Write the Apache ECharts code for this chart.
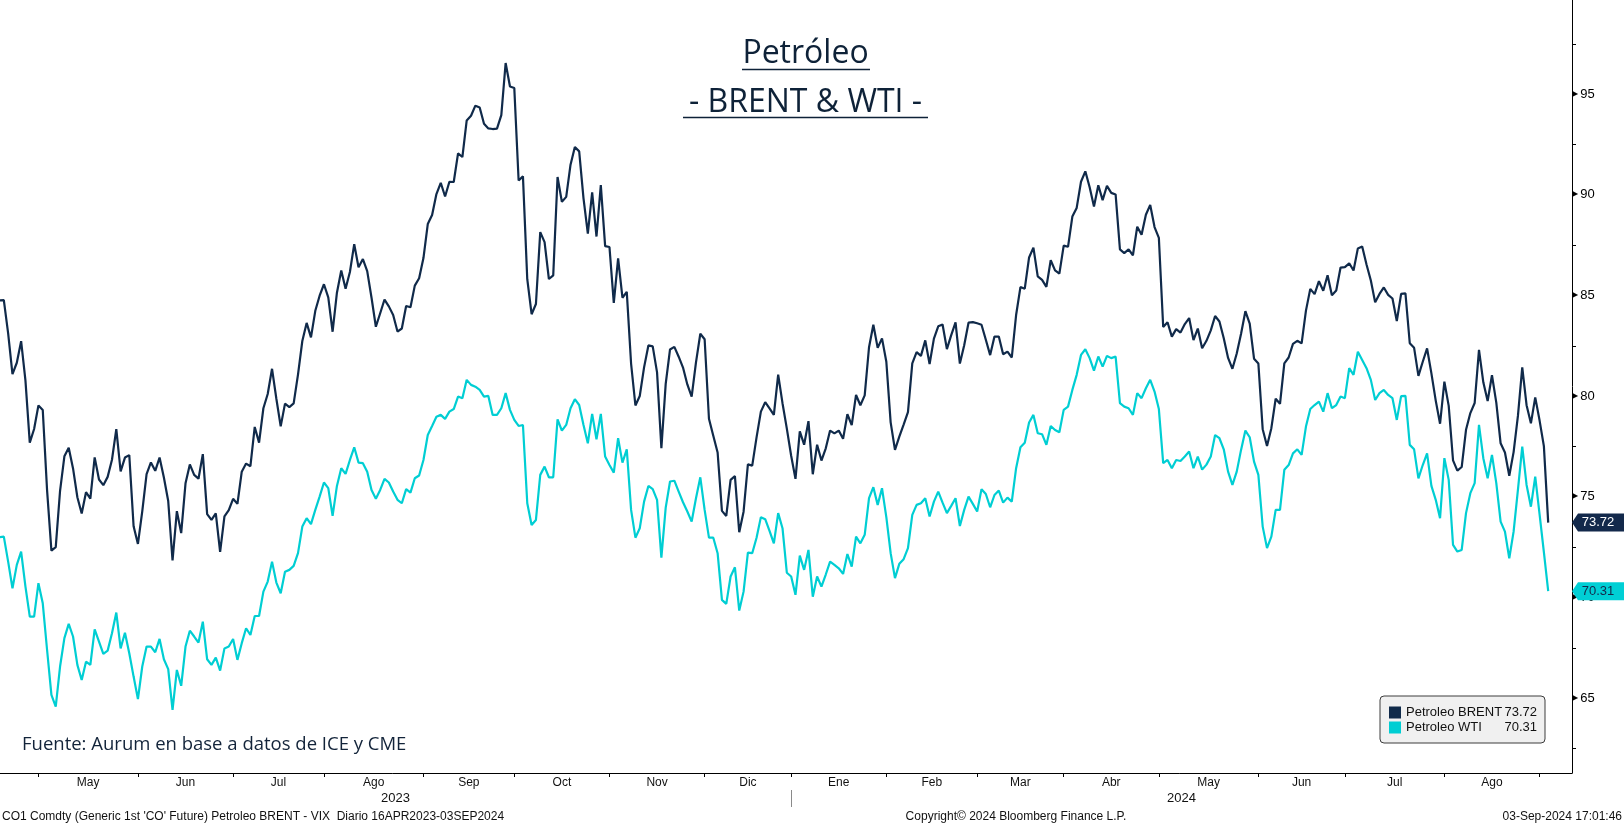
<!DOCTYPE html>
<html>
<head>
<meta charset="utf-8">
<script src="https://cdn.jsdelivr.net/npm/echarts@6/dist/echarts.min.js"></script>
<style>
html,body{margin:0;padding:0;background:#ffffff;}
#c{width:1624px;height:825px;}
</style>
</head>
<body>
<div id="c"></div>
<script>
// ---------------- DATA ----------------
// Trading calendar (weekdays, minus market holidays)
const firstDay = '2023-04-17';
const lastDay = '2024-09-03';
const holidays = ['2023-12-25', '2024-01-01', '2024-03-29'];
const monthLabels = ['May','Jun','Jul','Ago','Sep','Oct','Nov','Dic','Ene','Feb','Mar','Abr','May','Jun','Jul','Ago'];
const yearLabels = ['2023', '2024'];
const yMajorTicks = [65, 70, 75, 80, 85, 90, 95];
const yMinorTicks = [62.5, 67.5, 72.5, 77.5, 82.5, 87.5, 92.5, 97.5];

// Petroleo BRENT, daily
const brentApr23 = [84.76,84.77,83.12,81.10,81.66,82.73,80.77,77.69,78.37,79.54];
const brentMay23 = [79.31,75.32,72.33,72.50,75.30,77.01,77.44,76.41,74.98,74.17,75.23,74.91,76.96,75.86,75.58,75.99,76.84,78.36,76.26,76.95,77.07,73.54,72.66];
const brentJun23 = [74.28,76.13,76.71,76.29,76.95,75.96,74.79,71.84,74.29,73.20,75.67,76.61,76.09,75.90,77.12,74.14,73.85,74.18,72.26,74.03,74.34,74.90];
const brentJul23 = [74.65,76.25,76.65,76.52,78.47,77.69,79.40,80.11,81.36,79.87,78.50,79.63,79.46,79.64,81.07,82.74,83.64,82.92,84.24,84.99,85.56];
const brentAug23 = [84.91,83.20,85.14,86.24,85.34,86.17,87.55,86.40,86.81,86.21,84.89,83.45,84.12,84.80,84.46,84.03,83.21,83.36,84.48,84.42,85.49,85.86,86.86];
const brentSep23 = [88.55,89.00,90.04,90.60,89.92,90.65,90.64,92.06,91.88,93.70,93.93,94.43,94.34,93.53,93.30,93.27,93.29,93.96,96.55,95.38,95.31];
const brentOct23 = [90.71,90.92,85.81,84.07,84.58,88.15,87.65,85.82,86.00,90.89,89.65,89.90,91.50,92.38,92.16,89.83,88.07,90.13,87.93,90.48,87.45,87.41];
const brentNov23 = [84.63,86.85,84.89,85.18,81.61,79.54,80.01,81.43,82.52,82.47,81.18,77.42,80.61,82.32,82.45,81.96,81.42,80.58,79.98,81.68,83.10,82.83];
const brentDec23 = [78.88,78.03,77.20,74.30,74.05,75.84,76.03,73.24,74.26,76.61,76.55,77.95,79.23,79.70,79.39,79.07,81.07,79.65,78.39,77.04];
const brentJan24 = [75.89,78.25,77.59,78.76,76.12,77.59,76.80,77.41,78.29,78.15,78.29,77.88,79.10,78.56,80.06,79.55,80.04,82.43,83.55,82.40,82.87,81.71];
const brentFeb24 = [78.70,77.33,77.99,78.59,79.21,81.63,82.19,82.00,82.77,81.60,82.86,83.47,83.56,82.34,83.03,83.67,81.62,82.53,83.65,83.68,83.62];
const brentMar24 = [83.55,82.80,82.04,82.96,82.96,82.08,82.21,81.92,84.03,85.42,85.34,86.89,87.38,85.95,85.78,85.43,86.75,86.25,86.09,87.48];
const brentApr24 = [87.42,88.92,89.35,90.65,91.17,90.38,89.42,90.48,89.74,90.45,90.10,90.02,87.29,87.11,87.29,87.00,88.42,88.02,89.01,89.50,88.40,87.86];
const brentMay24 = [83.44,83.67,82.96,83.33,83.16,83.58,83.88,82.79,83.36,82.38,82.75,83.27,83.98,83.71,82.88,81.90,81.36,82.12,83.10,84.22,83.60,81.86,81.62];
const brentJun24 = [78.36,77.52,78.41,79.87,79.62,81.63,81.92,82.60,82.75,82.62,84.25,85.33,85.07,85.71,85.24,86.01,85.01,85.25,86.39,86.41];
const brentJul24 = [86.60,86.24,87.34,87.43,86.54,85.75,84.66,85.08,85.40,85.03,84.85,83.73,85.08,85.11,82.63,82.40,81.01,81.71,82.37,81.13,79.78,78.63,80.72];
const brentAug24 = [79.52,76.81,76.30,76.48,78.33,79.16,79.66,82.30,80.69,79.76,81.04,79.68,77.66,77.20,76.05,77.22,79.02,81.43,79.55,78.65,79.94,78.80];
const brentSep24 = [77.52,73.72];

// Petroleo WTI, daily (as plotted)
const wtiApr23 = [72.99,73.02,71.78,70.46,71.62,72.28,70.54,69.05,69.05,70.71];
const wtiMay23 = [69.71,67.39,65.16,64.58,66.57,67.98,68.69,68.06,66.65,65.90,66.81,66.65,68.42,67.81,67.20,67.36,68.22,69.25,67.47,68.25,67.23,66.07,64.95];
const wtiJun23 = [66.57,67.56,67.56,67.28,67.94,66.93,66.44,64.42,66.40,65.61,67.56,68.35,68.06,67.76,68.80,66.93,66.65,67.01,66.37,67.47,67.56,67.94];
const wtiJul23 = [66.90,67.73,68.47,68.14,69.08,69.08,70.29,70.79,71.78,70.74,70.21,71.28,71.37,71.57,72.20,73.52,73.94,73.64,74.35,75.01,75.71];
const wtiAug23 = [75.43,74.05,75.54,76.42,76.14,76.83,77.46,76.70,76.67,76.25,75.34,74.90,75.34,75.89,75.71,75.26,74.85,74.68,75.38,75.21,75.92,76.06,76.83];
const wtiSep23 = [78.07,78.52,78.98,79.07,78.87,79.23,79.36,79.98,79.90,80.81,80.56,80.47,80.31,79.98,80.01,79.07,79.07,79.40,80.15,79.32,78.82];
const wtiOct23 = [78.52,78.57,74.68,73.60,73.85,76.09,76.50,75.97,75.97,78.85,78.29,78.57,79.40,79.85,79.56,78.57,77.66,79.12,77.86,79.12,77.00,76.58];
const wtiNov23 = [76.20,77.91,76.70,77.36,74.35,72.97,73.44,74.76,75.54,75.38,74.85,71.98,74.46,75.76,75.80,75.26,74.73,74.27,73.77,74.93,75.97,74.35];
const wtiDec23 = [72.97,72.97,72.20,69.88,69.68,71.04,71.50,69.35,70.29,72.23,72.20,72.97,73.99,73.89,73.31,72.69,74.19,73.44,71.23,71.04];
const wtiJan24 = [70.13,72.08,71.37,72.36,70.04,71.04,70.54,71.14,71.78,71.62,71.45,71.17,72.16,71.53,73.02,72.69,73.11,74.93,75.48,74.60,75.43,73.99];
const wtiFeb24 = [72.20,70.96,71.67,71.90,72.45,74.10,74.60,74.68,74.93,74.02,74.76,75.26,74.71,74.19,74.55,74.93,73.55,74.35,75.01,74.65,74.27];
const wtiMar24 = [75.38,75.14,74.48,75.09,75.31,74.71,74.96,74.76,76.42,77.46,77.69,78.69,79.07,78.16,78.11,77.58,78.52,78.32,78.21,79.32];
const wtiApr24 = [79.48,80.31,81.06,82.05,82.33,81.89,81.27,81.97,81.47,82.00,81.89,81.97,79.65,79.48,79.40,79.07,80.15,79.90,80.39,80.81,80.23,79.36];
const wtiMay24 = [76.67,76.83,76.42,76.83,76.78,77.00,77.25,76.42,77.00,76.35,76.60,77.00,78.07,77.91,77.36,76.25,75.59,76.25,77.33,78.29,77.96,76.75,76.09];
const wtiJun24 = [73.52,72.45,73.02,74.35,74.35,76.34,76.58,77.16,77.36,77.08,78.49,79.36,79.56,79.73,79.23,80.15,79.40,79.56,79.98,79.90];
const wtiJul24 = [81.39,81.06,82.21,81.80,81.39,80.81,79.81,80.15,80.31,80.06,79.90,78.82,80.00,80.01,77.58,77.36,75.92,76.58,77.16,75.54,74.85,73.94,76.92];
const wtiAug24 = [75.84,72.61,72.28,72.36,74.19,75.18,75.68,78.57,76.92,75.92,77.08,75.68,73.77,73.27,71.95,73.27,75.34,77.49,75.59,74.51,76.00,74.14];
const wtiSep24 = [72.25,70.31];

// ---------------- BUILD ----------------
const brent = [].concat(brentApr23,brentMay23,brentJun23,brentJul23,brentAug23,brentSep23,brentOct23,brentNov23,brentDec23,
  brentJan24,brentFeb24,brentMar24,brentApr24,brentMay24,brentJun24,brentJul24,brentAug24,brentSep24);
const wti = [].concat(wtiApr23,wtiMay23,wtiJun23,wtiJul23,wtiAug23,wtiSep23,wtiOct23,wtiNov23,wtiDec23,
  wtiJan24,wtiFeb24,wtiMar24,wtiApr24,wtiMay24,wtiJun24,wtiJul24,wtiAug24,wtiSep24);

function tradingDays(start, end, hol) {
  const out = [];
  const d = new Date(start + 'T00:00:00Z');
  const e = new Date(end + 'T00:00:00Z');
  while (d <= e) {
    const wd = d.getUTCDay();
    const s = d.toISOString().slice(0, 10);
    if (wd !== 0 && wd !== 6 && hol.indexOf(s) < 0) out.push(s);
    d.setUTCDate(d.getUTCDate() + 1);
  }
  return out;
}
const dates = tradingDays(firstDay, lastDay, holidays);

// axis window (in trading-day units)
const X_MIN = 0.116;
const X_MAX = 363.5;

const monthBounds = [];
for (let i = 0; i < dates.length - 1; i++) {
  if (dates[i].slice(0, 7) !== dates[i + 1].slice(0, 7)) monthBounds.push(i);
}
const monthMids = [];
const monthMap = {};
for (let k = 0; k < monthBounds.length - 1; k++) {
  const m = (monthBounds[k] + monthBounds[k + 1]) / 2;
  monthMids.push(m);
  monthMap[m.toFixed(2)] = monthLabels[k];
}
const yearBound = monthBounds.find(i => dates[i].slice(0, 4) !== dates[i + 1].slice(0, 4));
const yearMids = [(X_MIN + yearBound) / 2, (yearBound + X_MAX) / 2];
const yearMap = {};
yearMids.forEach((m, k) => { yearMap[m.toFixed(2)] = yearLabels[k]; });

const NAVY = '#102a4a';
const CYAN = '#00ced3';
const AXFONT = '"Liberation Sans", Arial, sans-serif';
const TITLEFONT = '"Open Sans", "Noto Sans", sans-serif';

const lastBrent = brent[brent.length - 1];
const lastWti = wti[wti.length - 1];
const lastIdx = brent.length - 1;
const tagPath = 'path://M0,9L6,0L52,0L52,18L6,18Z';

const chart = echarts.init(document.getElementById('c'), null, {renderer: 'canvas', width: 1624, height: 825});

const option = {
  animation: false,
  backgroundColor: '#ffffff',
  textStyle: {fontFamily: AXFONT},
  grid: {left: 0, top: 0, width: 1572, height: 773, containLabel: false},
  xAxis: [
    {
      type: 'value', min: X_MIN, max: X_MAX, position: 'bottom',
      axisLine: {show: true, lineStyle: {color: '#000', width: 1}},
      axisTick: {show: true, customValues: monthBounds, length: 4, lineStyle: {color: '#000', width: 1}},
      axisLabel: {show: true, customValues: monthMids, margin: 4, fontSize: 12, color: '#111', fontFamily: AXFONT,
        formatter: v => monthMap[Number(v).toFixed(2)] || ''},
      splitLine: {show: false}
    },
    {
      type: 'value', min: X_MIN, max: X_MAX, position: 'bottom', offset: 17,
      axisLine: {show: false},
      axisTick: {show: true, customValues: [yearBound], length: 17, lineStyle: {color: '#8a8a8a', width: 1}},
      axisLabel: {show: true, customValues: yearMids, margin: 2, fontSize: 13, color: '#111', fontFamily: AXFONT,
        formatter: v => yearMap[Number(v).toFixed(2)] || ''},
      splitLine: {show: false}
    }
  ],
  yAxis: {
    type: 'value', position: 'right', min: 61.28, max: 99.68,
    axisLine: {show: true, lineStyle: {color: '#000', width: 1}},
    axisTick: {show: true, customValues: yMinorTicks, length: 4, lineStyle: {color: '#000', width: 1}},
    axisLabel: {show: true, customValues: yMajorTicks, margin: 0, fontSize: 13, color: '#000', fontFamily: AXFONT,
      formatter: v => '{t|\u25B6}' + v,
      rich: {t: {fontSize: 8, fontFamily: '"DejaVu Sans"', color: '#000', padding: [0, 2, 1, 0]}}},
    splitLine: {show: false}
  },
  legend: {
    show: true, data: ['Petroleo BRENT', 'Petroleo WTI'],
    left: 1380, top: 696, orient: 'vertical', icon: 'rect',
    itemWidth: 12, itemHeight: 12, itemGap: 2, selectedMode: false,
    padding: [10, 8, 9, 9],
    backgroundColor: '#f0f0f0', borderColor: '#3c3c3c', borderWidth: 1, borderRadius: 4,
    textStyle: {fontSize: 13, color: '#111', fontFamily: AXFONT, lineHeight: 13,
      rich: {
        n: {fontSize: 13, width: 97, color: '#111', fontFamily: AXFONT, lineHeight: 13},
        v: {fontSize: 13, width: 34, align: 'right', color: '#111', fontFamily: AXFONT, lineHeight: 13}
      }},
    formatter: name => '{n|' + name + '}{v|' + (name.indexOf('BRENT') >= 0 ? lastBrent : lastWti).toFixed(2) + '}'
  },
  series: [
    {
      name: 'Petroleo BRENT', type: 'line', data: brent.map((v, i) => [i, v]),
      showSymbol: false, clip: false, z: 3,
      lineStyle: {color: NAVY, width: 2.2}, itemStyle: {color: NAVY},
      markPoint: {
        silent: true, animation: false,
        symbol: tagPath, symbolSize: [52, 18], symbolOffset: [26, 0],
        itemStyle: {color: '#13294b'},
        label: {show: true, position: 'inside', color: '#ffffff', fontSize: 13, fontFamily: AXFONT,
          formatter: p => Number(p.value).toFixed(2)},
        data: [{coord: [X_MAX, lastBrent], value: lastBrent}]
      }
    },
    {
      name: 'Petroleo WTI', type: 'line', data: wti.map((v, i) => [i, v]),
      showSymbol: false, clip: false, z: 2,
      lineStyle: {color: CYAN, width: 2.2}, itemStyle: {color: CYAN},
      markPoint: {
        silent: true, animation: false,
        symbol: tagPath, symbolSize: [52, 18], symbolOffset: [26, 0],
        itemStyle: {color: '#00cfd5'},
        label: {show: true, position: 'inside', color: '#13294b', fontSize: 13, fontFamily: AXFONT,
          formatter: p => Number(p.value).toFixed(2)},
        data: [{coord: [X_MAX, lastWti], value: lastWti}]
      }
    }
  ],
  graphic: [
    {type: 'text', x: 805.5, y: 54, style: {text: 'Petróleo', font: '32px ' + TITLEFONT, fill: '#0e2238', align: 'center', verticalAlign: 'middle'}},
    {type: 'line', shape: {x1: 742, y1: 69.5, x2: 870, y2: 69.5}, style: {stroke: '#0e2238', lineWidth: 1.5}},
    {type: 'text', x: 805.5, y: 103, style: {text: '- BRENT & WTI -', font: '32px ' + TITLEFONT, fill: '#0e2238', align: 'center', verticalAlign: 'middle'}},
    {type: 'line', shape: {x1: 683, y1: 117.5, x2: 928, y2: 117.5}, style: {stroke: '#0e2238', lineWidth: 1.5}},
    {type: 'text', x: 22, y: 745, style: {text: 'Fuente: Aurum en base a datos de ICE y CME', font: '18.5px ' + TITLEFONT, fill: '#13243a', align: 'left', verticalAlign: 'middle'}},
    {type: 'text', x: 2, y: 817, style: {text: "CO1 Comdty (Generic 1st 'CO' Future) Petroleo BRENT - VIX  Diario 16APR2023-03SEP2024", font: '12px ' + AXFONT, fill: '#111', align: 'left', verticalAlign: 'middle'}},
    {type: 'text', x: 1016, y: 817, style: {text: 'Copyright\u00A9 2024 Bloomberg Finance L.P.', font: '12px ' + AXFONT, fill: '#111', align: 'center', verticalAlign: 'middle'}},
    {type: 'text', x: 1622, y: 817, style: {text: '03-Sep-2024 17:01:46', font: '12px ' + AXFONT, fill: '#111', align: 'right', verticalAlign: 'middle'}}
  ]
};
chart.setOption(option);
</script>
</body>
</html>
